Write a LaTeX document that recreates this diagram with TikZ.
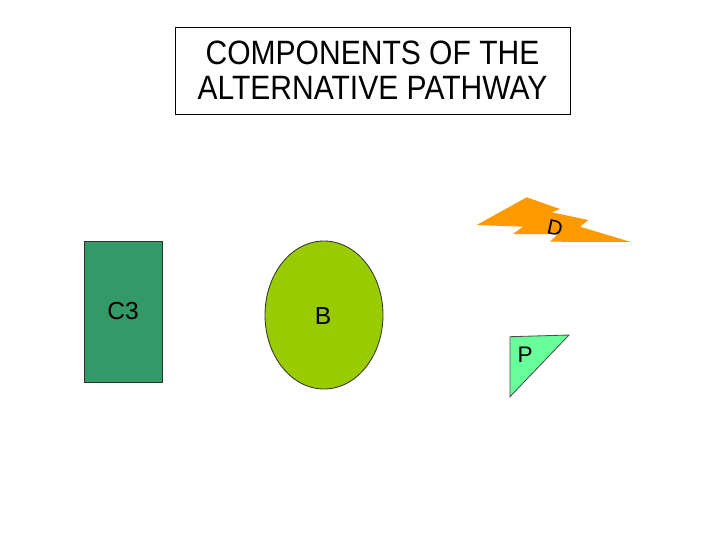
\documentclass[tikz,border=0pt]{standalone}
\usepackage{fontspec}
\setmainfont{Liberation Sans}
\usepackage{tikz}
\usetikzlibrary{shapes.geometric}

\definecolor{cgreen}{HTML}{339966}
\definecolor{bgreen}{HTML}{99CC00}
\definecolor{dorange}{HTML}{FF9900}
\definecolor{pgreen}{HTML}{66FF99}

\begin{document}
\begin{tikzpicture}[x=0.025cm, y=-0.025cm,
    label/.style={font=\fontsize{17.5}{20}\selectfont},
    box/.style={draw=black!80, line width=0.6pt}]
    \useasboundingbox (0,0) rectangle (720,540);

    % Titre
    \node[draw, line width=0.5pt, minimum width=395*0.025cm, minimum height=87*0.025cm,
          align=center, font=\fontsize{24}{25}\selectfont, inner sep=0pt]
          (titre) at (372.5,70.5) {\scalebox{0.89}[1]{COMPONENTS OF THE}\\\scalebox{0.89}[1]{ALTERNATIVE PATHWAY}};

    % Composants
    \node[box, fill=cgreen, minimum width=78*0.025cm, minimum height=141*0.025cm,
          label] (C3) at (123,311.5) {C3};
    \node[box, ellipse, fill=bgreen, minimum width=118*0.025cm, minimum height=148*0.025cm,
          inner sep=0pt, label] (B) at (324,315) {};
    \node[label] (Btxt) at (323,316) {B};

    % Eclair D
    \fill[dorange] (476.7,225) -- (526.7,197.3) -- (560,209) -- (551.7,212.3)
        -- (588.3,220) -- (580,226.7) -- (631,242) -- (550,241.7)
        -- (558,234) -- (513,234) -- (523,226.7) -- cycle;
    \node[font=\fontsize{15}{17}\selectfont, rotate=-12] (D) at (555,228) {D};

    % Triangle P
    \draw[box, draw=black!70, fill=pgreen] (510,336.7) -- (569,335) -- (510,396.7) -- cycle;
    \node[font=\fontsize{16}{18}\selectfont] (P) at (525,355) {P};
\end{tikzpicture}
\end{document}
